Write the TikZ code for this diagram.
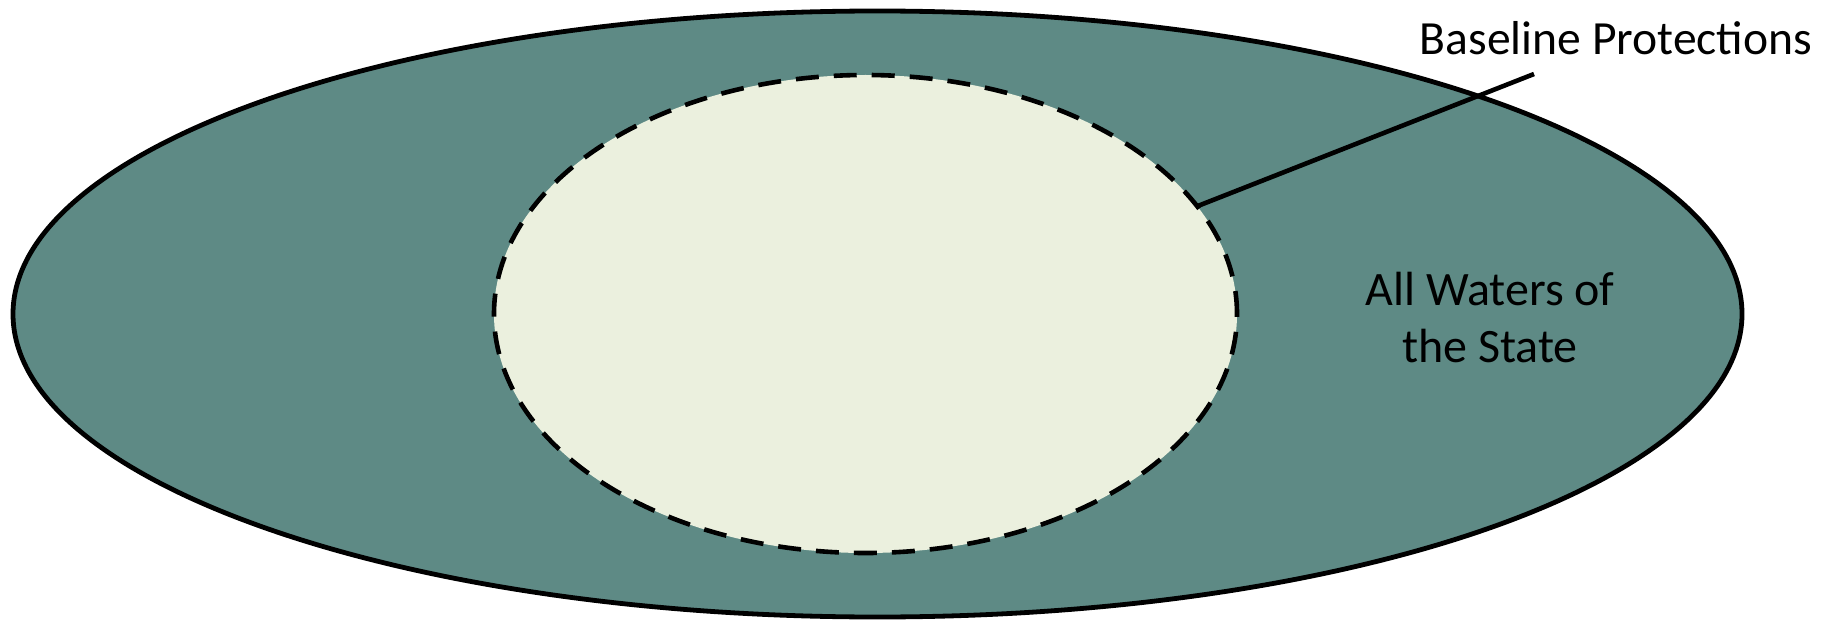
\documentclass[tikz,border=0pt]{standalone}
\usepackage{fontspec}
\setmainfont{Carlito}
\usetikzlibrary{shapes.geometric}
\definecolor{teal1}{RGB}{94,138,133}
\definecolor{pale}{RGB}{235,240,222}
\tikzset{
  outerell/.style={ellipse, draw=black, line width=2.4pt, fill=teal1, inner sep=0pt, outer sep=0pt,
    minimum width=864.5pt, minimum height=303pt},
  innerell/.style={ellipse, draw=black, line width=2.3pt, fill=pale, inner sep=0pt, outer sep=0pt,
    dash pattern=on 11.5pt off 7.5pt, minimum width=371.5pt, minimum height=239pt},
  leader/.style={draw=black, line width=2.3pt},
  lbl/.style={font=\fontsize{23.8}{28.5}\selectfont, inner sep=0pt},
  biglbl/.style={font=\fontsize{24}{28.5}\selectfont, align=center, inner sep=0pt}
}
\begin{document}
\begin{tikzpicture}[x=0.5pt,y=-0.5pt]
\useasboundingbox (0,0) rectangle (1823,620);
\node[outerell] (outer) at (877.5,314) {};
\node[innerell] (inner) at (865.5,314) {};
\coordinate (lead) at (1534,74);
\draw[leader] (inner.18.7) -- (lead);
\node[lbl, anchor=base] (base) at (1616,55) {Baseline Protections};
\node[biglbl, anchor=base] (all) at (1490,362) {All Waters of\\the State};
\end{tikzpicture}
\end{document}
